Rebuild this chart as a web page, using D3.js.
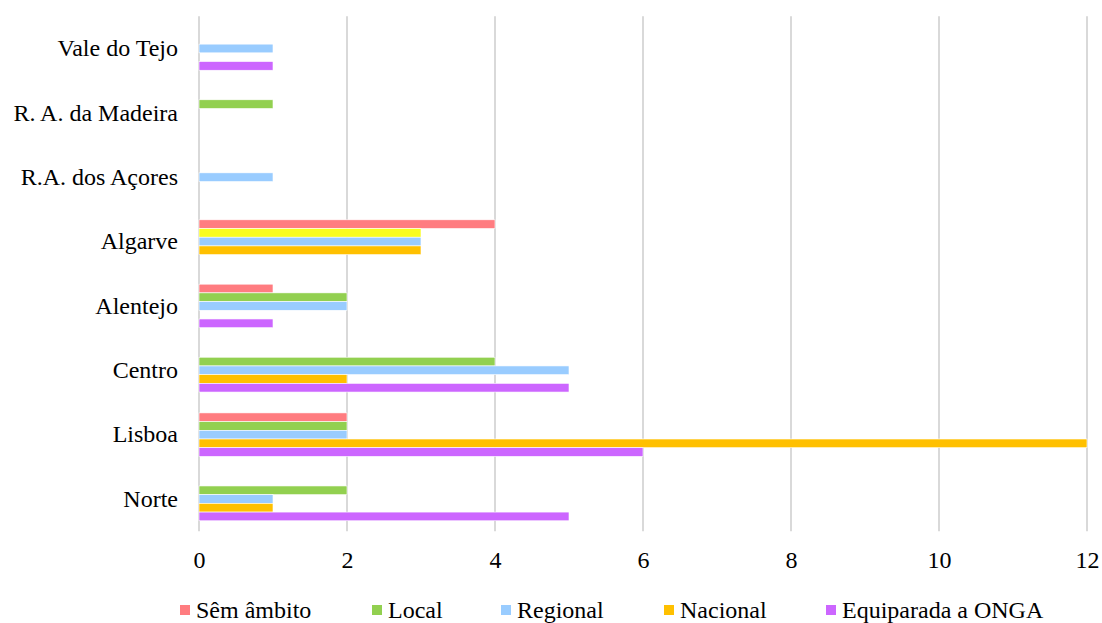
<!DOCTYPE html>
<html>
<head>
<meta charset="utf-8">
<script src="https://cdn.jsdelivr.net/npm/d3@7"></script>
<style>
  html, body { margin: 0; padding: 0; background: #fff; }
  svg { display: block; }
  text { font-family: "Liberation Serif", "Times New Roman", serif; fill: #000; }
</style>
</head>
<body>
<svg id="chart" width="1102" height="623"></svg>
<script>
// Regions, listed top to bottom as drawn
const regions = ["Vale do Tejo", "R. A. da Madeira", "R.A. dos Açores", "Algarve", "Alentejo", "Centro", "Lisboa", "Norte"];

// Series names and values per region (same order as regions)
const seriesNames = ["Sêm âmbito", "Local", "Regional", "Nacional", "Equiparada a ONGA"];
const semAmbito   = [0, 0, 0, 4, 1, 0, 2, 0];
const local       = [0, 1, 0, 3, 2, 4, 2, 2];
const regional    = [1, 0, 1, 3, 2, 5, 2, 1];
const nacional    = [0, 0, 0, 3, 0, 2, 12, 1];
const equiparada  = [1, 0, 0, 0, 1, 5, 6, 5];

const seriesColors = ["#FF7C80", "#92D050", "#99CCFF", "#FFC000", "#CC66FF"];
// Single point with its own fill (Algarve, Local)
const pointColorOverrides = [{ region: "Algarve", series: "Local", color: "#F9FC1F" }];

const xTicks = [0, 2, 4, 6, 8, 10, 12];

const seriesValues = [semAmbito, local, regional, nacional, equiparada];

const svg = d3.select("#chart");
const margin = { left: 199, right: 15, top: 16.3, bottom: 91.8 };
const W = 1102, H = 623;
const FONT = "'Liberation Serif', 'Times New Roman', serif";

const x = d3.scaleLinear().domain([0, 12]).range([margin.left, W - margin.right]);
const y = d3.scaleBand().domain(regions)
  .range([margin.top, H - margin.bottom])
  .paddingInner(0.324).paddingOuter(0.162);
const ySub = d3.scaleBand().domain(seriesNames).range([0, y.bandwidth()]);

// Vertical gridlines
svg.append("g").selectAll("line").data(xTicks).join("line")
  .attr("x1", d => x(d)).attr("x2", d => x(d))
  .attr("y1", margin.top).attr("y2", H - margin.bottom)
  .attr("stroke", "#d9d9d9").attr("stroke-width", 2);

// Bars
const rows = [];
regions.forEach((r, i) => {
  seriesNames.forEach((s, j) => {
    const v = seriesValues[j][i];
    if (v > 0) {
      const ov = pointColorOverrides.find(o => o.region === r && o.series === s);
      rows.push({ region: r, series: s, value: v, color: ov ? ov.color : seriesColors[j] });
    }
  });
});

svg.append("g").selectAll("rect").data(rows).join("rect")
  .attr("x", x(0))
  .attr("y", d => y(d.region) + ySub(d.series))
  .attr("width", d => x(d.value) - x(0))
  .attr("height", ySub.bandwidth())
  .attr("fill", d => d.color)
  .attr("stroke", "#fff").attr("stroke-width", 0.6);

// X axis labels
const xAxis = d3.axisBottom(x).tickValues(xTicks).tickSize(0).tickPadding(0).tickFormat(d3.format("d"));
const gx = svg.append("g").attr("transform", `translate(0,${H - margin.bottom})`).call(xAxis);
gx.select(".domain").remove();
gx.selectAll("text").attr("y", 28).attr("dy", "0.35em").style("font-size", "24px")
  .style("font-family", FONT);

// Y axis labels
const yAxis = d3.axisLeft(y).tickSize(0).tickPadding(21);
const gy = svg.append("g").attr("transform", `translate(${x(0)},0)`).call(yAxis);
gy.select(".domain").remove();
gy.selectAll("text").style("font-size", "24px").style("font-family", FONT);

// Legend
const legendX = [180, 372, 501, 664, 826];
const legend = svg.append("g").selectAll("g").data(seriesNames).join("g")
  .attr("transform", (d, i) => `translate(${legendX[i]},610)`);
legend.append("rect").attr("x", 0).attr("y", -5).attr("width", 10).attr("height", 10)
  .attr("fill", (d, i) => seriesColors[i]);
legend.append("text").attr("x", 16).attr("y", 0).attr("dy", "0.35em")
  .style("font-size", "24px").style("font-family", FONT).text(d => d);
</script>
</body>
</html>
